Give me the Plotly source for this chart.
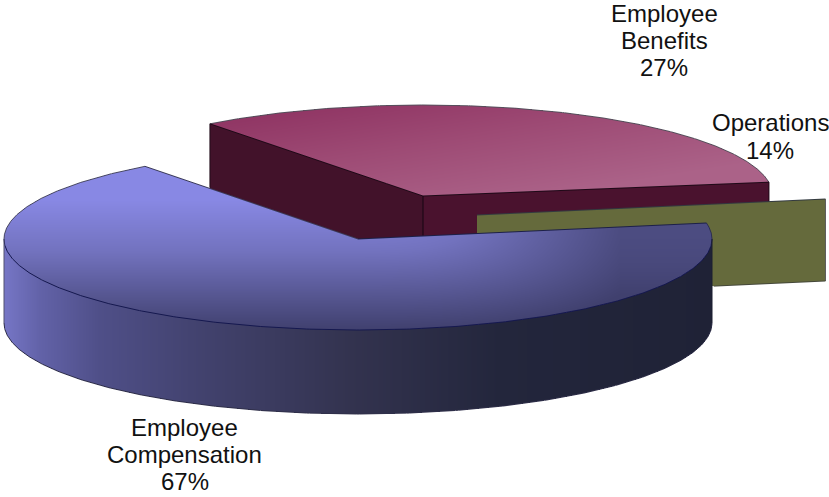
import numpy as np
import plotly.graph_objects as go

# Chart values
CATEGORIES = ["Employee Compensation", "Employee Benefits", "Operations"]
SHARES = [67, 27, 14]
LABEL_LINES = [["Employee", "Compensation"], ["Employee", "Benefits"], ["Operations"]]

# Pie geometry in page pixels
W, H = 829, 497
DEG_PER_SHARE = 3.6
COMPENSATION_FAN = 1.008    # rounding of the printed percentage
BENEFITS_FAN = 1.222        # the benefits wedge is fanned out over the open sector
BLUE_START = 127
RED_START = 127.5
DEPTH = 84
OLIVE_DEPTH = 82
BLUE = dict(cx=358, cy=239, rx=354, ry=91)
RED = dict(cx=423, cy=196, rx=350, ry=91)
OLIVE_APEX = (477, 215)

blue_sweep = SHARES[0] * DEG_PER_SHARE * COMPENSATION_FAN
red_sweep = SHARES[1] * DEG_PER_SHARE * BENEFITS_FAN
blue_end = BLUE_START + blue_sweep

xc = np.arange(W) + 0.5
yc = np.arange(H) + 0.5
X, Y = np.meshgrid(xc, yc)


def wedge_mask(p, a0, sweep):
    u = (X - p["cx"]) / p["rx"]
    v = (p["cy"] - Y) / p["ry"]
    ang = (np.degrees(np.arctan2(v, u)) - a0) % 360
    return (u * u + v * v <= 1) & (ang <= sweep)


def rim_point(p, deg):
    t = np.radians(deg)
    return p["cx"] + p["rx"] * np.cos(t), p["cy"] - p["ry"] * np.sin(t)


def wall_mask(a, b, depth=DEPTH):
    x0, x1 = sorted((a[0], b[0]))
    line = a[1] + (b[1] - a[1]) * (X - a[0]) / (b[0] - a[0])
    return (X >= x0) & (X <= x1) & (Y >= line) & (Y <= line + depth)


def cylinder_wall_mask(p, depth=DEPTH):
    u = (X - p["cx"]) / p["rx"]
    inside = np.abs(u) <= 1
    rim = p["cy"] + p["ry"] * np.sqrt(np.clip(1 - u * u, 0, None))
    return inside & (Y >= rim - 1) & (Y <= rim + depth)


def face(mask, z, colorscale, zmin=None, zmax=None):
    return go.Heatmap(
        x=xc, y=yc, z=np.where(mask, z, np.nan).round(3),
        colorscale=colorscale, zmin=zmin, zmax=zmax,
        showscale=False, hoverinfo="skip",
    )


def flat(mask, color):
    return face(mask, np.zeros_like(X), [[0, color], [1, color]], 0, 1)


def stops(pairs):
    lo, hi = pairs[0][0], pairs[-1][0]
    return [[(v - lo) / (hi - lo), c] for v, c in pairs]


# Faces
red_left_a = rim_point(RED, RED_START)
red_apex = (RED["cx"], RED["cy"])
red_end = RED_START - red_sweep
red_right_b = rim_point(RED, red_end)
olive_b = (OLIVE_APEX[0] + BLUE["rx"] * np.cos(np.radians(blue_end)),
           OLIVE_APEX[1] - BLUE["ry"] * np.sin(np.radians(blue_end)))

m_red_left = wall_mask(red_left_a, red_apex)
m_red_right = wall_mask(red_apex, red_right_b)
m_red_top = wedge_mask(RED, red_end, red_sweep)
m_olive = wall_mask(OLIVE_APEX, olive_b, OLIVE_DEPTH)
m_blue_wall = cylinder_wall_mask(BLUE)
m_blue_top = wedge_mask(BLUE, BLUE_START, blue_sweep)

red_z = 0.62 * np.clip((Y - 105) / 90, 0, 1) + 0.62 * np.clip((X - 209) / 560, 0, 1)
blue_v = np.clip((Y - 200) / 130, 0, 1)
blue_h = 0.85 * np.clip((X - 350) / 270, 0, 1)
# Smooth blend of the downward and rightward shading
blue_z = np.clip((blue_v ** 3 + blue_h ** 3) ** (1 / 3), 0, 1)

fig = go.Figure()
fig.add_trace(flat(m_red_left, "#42122a"))
fig.add_trace(flat(m_red_right, "#4a122e"))
fig.add_trace(face(m_red_top, np.clip(red_z, 0, 1),
                   [[0, "#8c2f5f"], [0.5, "#9d4a74"], [1, "#ab6288"]], 0, 1))
fig.add_trace(flat(m_olive, "#656a3c"))
fig.add_trace(face(m_blue_wall, X,
                   stops([(4, "#7676c6"), (40, "#6262a8"), (100, "#4f4f88"),
                          (200, "#42426e"), (350, "#33334f"), (500, "#23263c"),
                          (712, "#1f2236")]), 4, 712))
fig.add_trace(face(m_blue_top, blue_z,
                   [[0, "#8888e4"], [0.4, "#7272be"], [1, "#40406e"]], 0, 1))


def outline(xs, ys, color, width=1.0, covers=()):
    xs, ys = np.asarray(xs, float), np.asarray(ys, float)
    ix = np.clip(xs.astype(int), 0, W - 1)
    iy = np.clip(ys.astype(int), 0, H - 1)
    hidden = np.zeros(len(xs), bool)
    for m in covers:
        hidden |= m[iy, ix]
    fig.add_trace(go.Scatter(
        x=np.where(hidden, np.nan, xs).round(2), y=np.where(hidden, np.nan, ys).round(2),
        mode="lines", line=dict(color=color, width=width),
        hoverinfo="skip", showlegend=False,
    ))


def seg(a, b, n=160):
    return np.linspace(a[0], b[0], n), np.linspace(a[1], b[1], n)


def arc(p, a0, a1, dy=0, n=400):
    t = np.radians(np.linspace(a0, a1, n))
    return p["cx"] + p["rx"] * np.cos(t), p["cy"] - p["ry"] * np.sin(t) + dy


over_red = (m_olive, m_blue_wall, m_blue_top)
over_olive = (m_blue_wall, m_blue_top)
down = lambda pt, d=DEPTH: (pt[0], pt[1] + d)

# Edges of the benefits wedge
outline(*arc(RED, red_end, RED_START), "#55505c", 1.0, over_red)
outline(*seg(red_left_a, red_apex), "#1f0a18", 1.0, over_red)
outline(*seg(red_apex, red_right_b), "#1f0a18", 1.0, over_red)
outline(*seg(red_left_a, down(red_left_a)), "#1f0a18", 1.0, over_red)
outline(*seg(red_apex, down(red_apex)), "#140510", 1.0, over_red)
outline(*seg(red_right_b, down(red_right_b)), "#1f0a18", 1.0, over_red)

# Edges of the operations wall
outline(*seg(OLIVE_APEX, olive_b), "#333a40", 1.0, over_olive)
outline(*seg(olive_b, down(olive_b, OLIVE_DEPTH)), "#5a5a58", 1.0, over_olive)
outline(*seg(down(OLIVE_APEX, OLIVE_DEPTH), down(olive_b, OLIVE_DEPTH)), "#45483a", 1.0, over_olive)

# Edges of the compensation wedge
blue_start_pt = rim_point(BLUE, BLUE_START)
blue_end_pt = rim_point(BLUE, blue_end)
blue_apex = (BLUE["cx"], BLUE["cy"])
outline(*arc(BLUE, BLUE_START, 180), "#4a4a62", 1.0)
outline(*arc(BLUE, 180, 360), "#15184f", 1.0)
outline(*arc(BLUE, 0, blue_end - 360), "#2c2f50", 1.0)
outline(*seg(blue_start_pt, blue_apex), "#3a3a58", 1.0)
outline(*seg(blue_apex, blue_end_pt), "#1d2048", 1.0)
outline(*arc(BLUE, 180, 360, DEPTH), "#30304a", 1.0)
outline(*seg(rim_point(BLUE, 180), down(rim_point(BLUE, 180))), "#50506e", 1.0)
outline(*seg(rim_point(BLUE, 0), down(rim_point(BLUE, 0))), "#1c1e30", 1.0)

# Data labels, one annotation per text line
LABEL_CENTERS = [184.5, 664, 770]
LABEL_TOPS = [427, 13, 122]
LINE_STEPS = [27, 27, 28.5]
annotations = []
for lines, share, lx, ly, step in zip(LABEL_LINES, SHARES, LABEL_CENTERS, LABEL_TOPS, LINE_STEPS):
    for k, text in enumerate(lines + [f"{share}%"]):
        annotations.append(dict(
            x=lx, y=ly + k * step, text=text, showarrow=False,
            xanchor="center", yanchor="middle",
            font=dict(family="Liberation Sans", size=24, color="#111111"),
        ))

fig.update_layout(
    width=W, height=H, margin=dict(l=0, r=0, t=0, b=0),
    paper_bgcolor="white", plot_bgcolor="white", showlegend=False,
    xaxis=dict(range=[0, W], visible=False, fixedrange=True),
    yaxis=dict(range=[H, 0], visible=False, fixedrange=True),
    annotations=annotations,
)
fig.write_html("out.html", config={"displayModeBar": False})
